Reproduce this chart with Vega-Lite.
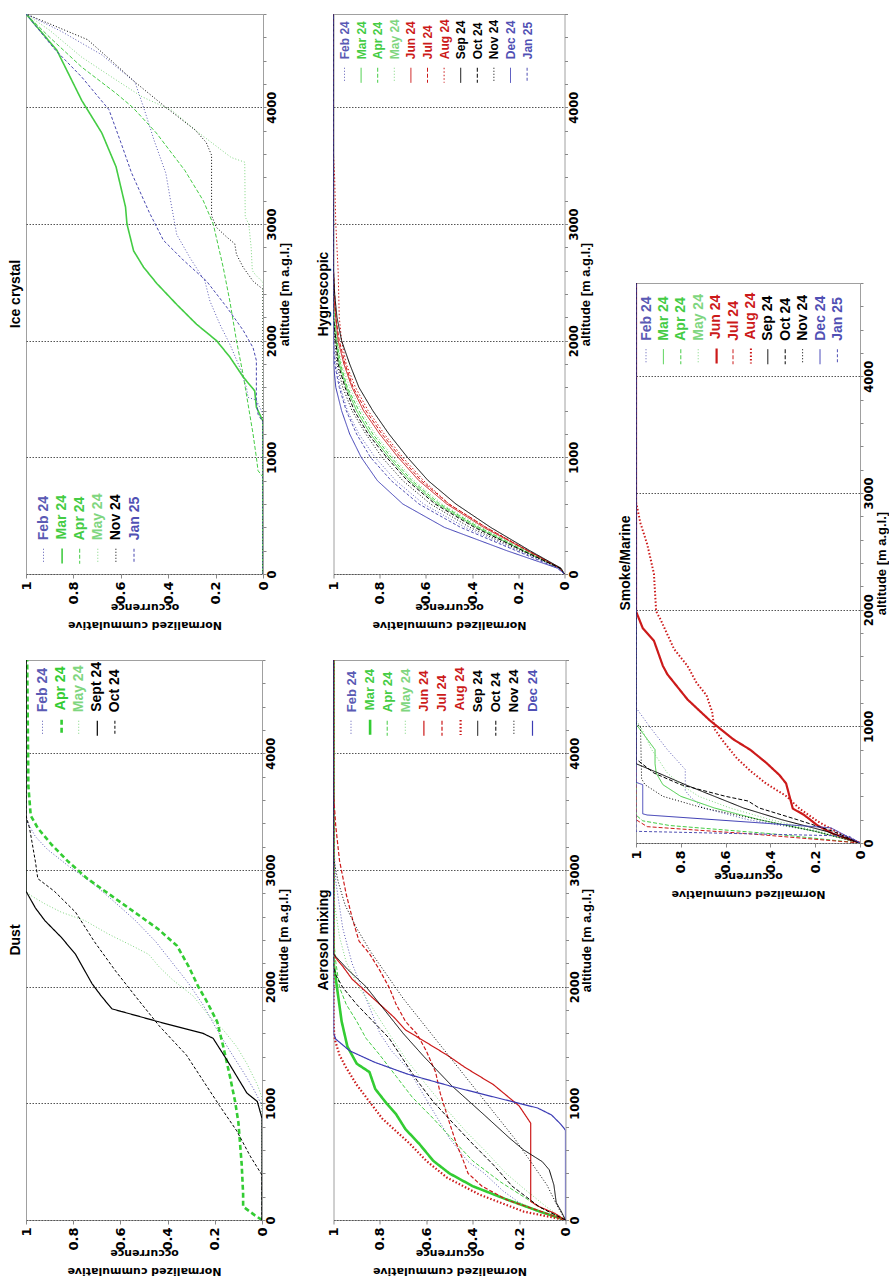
{
"$schema": "https://vega.github.io/schema/vega-lite/v6.json",
"background": "white",
"padding": {"left": 8, "top": 13, "right": 0, "bottom": 0},
"config": {"font": "Liberation Sans", "view": {"stroke": "#a0a0a0", "strokeWidth": 1}},
"datasets": {
"ice": [
{"m":"Feb 24","a":0,"o":0},{"m":"Feb 24","a":1370,"o":0},{"m":"Feb 24","a":1490,"o":0.028},{"m":"Feb 24","a":1514,"o":0.063},{"m":"Feb 24","a":1600,"o":0.07},{"m":"Feb 24","a":1770,"o":0.098},{"m":"Feb 24","a":1970,"o":0.14},{"m":"Feb 24","a":2140,"o":0.182},{"m":"Feb 24","a":2340,"o":0.224},{"m":"Feb 24","a":2510,"o":0.245},{"m":"Feb 24","a":2710,"o":0.308},{"m":"Feb 24","a":2910,"o":0.364},{"m":"Feb 24","a":3200,"o":0.39},{"m":"Feb 24","a":3436,"o":0.41},{"m":"Feb 24","a":3720,"o":0.46},{"m":"Feb 24","a":3976,"o":0.5},{"m":"Feb 24","a":4216,"o":0.54},{"m":"Feb 24","a":4450,"o":0.68},{"m":"Feb 24","a":4650,"o":0.85},{"m":"Feb 24","a":4800,"o":1},
{"m":"Mar 24","a":0,"o":0},{"m":"Mar 24","a":1310,"o":0},{"m":"Mar 24","a":1430,"o":0.028},{"m":"Mar 24","a":1570,"o":0.035},{"m":"Mar 24","a":1690,"o":0.084},{"m":"Mar 24","a":1860,"o":0.14},{"m":"Mar 24","a":2000,"o":0.196},{"m":"Mar 24","a":2140,"o":0.28},{"m":"Mar 24","a":2310,"o":0.364},{"m":"Mar 24","a":2490,"o":0.448},{"m":"Mar 24","a":2630,"o":0.504},{"m":"Mar 24","a":2770,"o":0.546},{"m":"Mar 24","a":3000,"o":0.574},{"m":"Mar 24","a":3145,"o":0.58},{"m":"Mar 24","a":3490,"o":0.62},{"m":"Mar 24","a":3780,"o":0.68},{"m":"Mar 24","a":4060,"o":0.765},{"m":"Mar 24","a":4490,"o":0.87},{"m":"Mar 24","a":4800,"o":1},
{"m":"Apr 24","a":0,"o":0},{"m":"Apr 24","a":830,"o":0},{"m":"Apr 24","a":886,"o":0.021},{"m":"Apr 24","a":1000,"o":0.028},{"m":"Apr 24","a":1200,"o":0.042},{"m":"Apr 24","a":1370,"o":0.056},{"m":"Apr 24","a":1710,"o":0.084},{"m":"Apr 24","a":2000,"o":0.112},{"m":"Apr 24","a":2340,"o":0.14},{"m":"Apr 24","a":2630,"o":0.168},{"m":"Apr 24","a":3000,"o":0.21},{"m":"Apr 24","a":3200,"o":0.252},{"m":"Apr 24","a":3460,"o":0.33},{"m":"Apr 24","a":3780,"o":0.45},{"m":"Apr 24","a":4000,"o":0.55},{"m":"Apr 24","a":4120,"o":0.62},{"m":"Apr 24","a":4345,"o":0.765},{"m":"Apr 24","a":4600,"o":0.9},{"m":"Apr 24","a":4800,"o":1},
{"m":"May 24","a":0,"o":0},{"m":"May 24","a":2500,"o":0},{"m":"May 24","a":2560,"o":0.03},{"m":"May 24","a":2600,"o":0.045},{"m":"May 24","a":2800,"o":0.05},{"m":"May 24","a":3000,"o":0.06},{"m":"May 24","a":3060,"o":0.075},{"m":"May 24","a":3530,"o":0.077},{"m":"May 24","a":3570,"o":0.134},{"m":"May 24","a":3780,"o":0.27},{"m":"May 24","a":3976,"o":0.386},{"m":"May 24","a":4090,"o":0.51},{"m":"May 24","a":4235,"o":0.62},{"m":"May 24","a":4430,"o":0.765},{"m":"May 24","a":4660,"o":0.9},{"m":"May 24","a":4800,"o":1},
{"m":"Nov 24","a":0,"o":0},{"m":"Nov 24","a":2440,"o":0},{"m":"Nov 24","a":2510,"o":0.042},{"m":"Nov 24","a":2630,"o":0.084},{"m":"Nov 24","a":2740,"o":0.112},{"m":"Nov 24","a":2830,"o":0.119},{"m":"Nov 24","a":2890,"o":0.154},{"m":"Nov 24","a":2970,"o":0.196},{"m":"Nov 24","a":3070,"o":0.217},{"m":"Nov 24","a":3590,"o":0.217},{"m":"Nov 24","a":3700,"o":0.24},{"m":"Nov 24","a":3805,"o":0.286},{"m":"Nov 24","a":4000,"o":0.41},{"m":"Nov 24","a":4216,"o":0.54},{"m":"Nov 24","a":4400,"o":0.64},{"m":"Nov 24","a":4580,"o":0.74},{"m":"Nov 24","a":4800,"o":1},
{"m":"Jan 25","a":0,"o":0},{"m":"Jan 25","a":1300,"o":0},{"m":"Jan 25","a":1370,"o":0.021},{"m":"Jan 25","a":1490,"o":0.028},{"m":"Jan 25","a":1830,"o":0.028},{"m":"Jan 25","a":1940,"o":0.042},{"m":"Jan 25","a":2090,"o":0.084},{"m":"Jan 25","a":2290,"o":0.154},{"m":"Jan 25","a":2510,"o":0.238},{"m":"Jan 25","a":2690,"o":0.336},{"m":"Jan 25","a":2860,"o":0.42},{"m":"Jan 25","a":3100,"o":0.48},{"m":"Jan 25","a":3440,"o":0.555},{"m":"Jan 25","a":3700,"o":0.6},{"m":"Jan 25","a":3980,"o":0.65},{"m":"Jan 25","a":4260,"o":0.765},{"m":"Jan 25","a":4500,"o":0.88},{"m":"Jan 25","a":4800,"o":1}
],
"dust": [
{"m":"Feb 24","a":0,"o":0},{"m":"Feb 24","a":980,"o":0},{"m":"Feb 24","a":1124,"o":0.036},{"m":"Feb 24","a":1268,"o":0.079},{"m":"Feb 24","a":1449,"o":0.136},{"m":"Feb 24","a":1629,"o":0.19},{"m":"Feb 24","a":1845,"o":0.25},{"m":"Feb 24","a":2025,"o":0.31},{"m":"Feb 24","a":2205,"o":0.38},{"m":"Feb 24","a":2385,"o":0.45},{"m":"Feb 24","a":2566,"o":0.536},{"m":"Feb 24","a":2746,"o":0.636},{"m":"Feb 24","a":2890,"o":0.72},{"m":"Feb 24","a":3034,"o":0.82},{"m":"Feb 24","a":3178,"o":0.91},{"m":"Feb 24","a":3286,"o":0.96},{"m":"Feb 24","a":3430,"o":1},{"m":"Feb 24","a":4800,"o":1},
{"m":"Apr 24","a":0,"o":0},{"m":"Apr 24","a":40,"o":0.03},{"m":"Apr 24","a":115,"o":0.08},{"m":"Apr 24","a":223,"o":0.08},{"m":"Apr 24","a":475,"o":0.086},{"m":"Apr 24","a":836,"o":0.1},{"m":"Apr 24","a":1016,"o":0.114},{"m":"Apr 24","a":1232,"o":0.136},{"m":"Apr 24","a":1485,"o":0.164},{"m":"Apr 24","a":1700,"o":0.19},{"m":"Apr 24","a":1881,"o":0.236},{"m":"Apr 24","a":2000,"o":0.27},{"m":"Apr 24","a":2170,"o":0.31},{"m":"Apr 24","a":2350,"o":0.36},{"m":"Apr 24","a":2494,"o":0.44},{"m":"Apr 24","a":2638,"o":0.54},{"m":"Apr 24","a":2782,"o":0.64},{"m":"Apr 24","a":2926,"o":0.74},{"m":"Apr 24","a":3070,"o":0.82},{"m":"Apr 24","a":3214,"o":0.89},{"m":"Apr 24","a":3359,"o":0.95},{"m":"Apr 24","a":3467,"o":0.98},{"m":"Apr 24","a":3719,"o":0.99},{"m":"Apr 24","a":4800,"o":0.995},
{"m":"May 24","a":0,"o":0},{"m":"May 24","a":1052,"o":0},{"m":"May 24","a":1160,"o":0.02},{"m":"May 24","a":1340,"o":0.064},{"m":"May 24","a":1485,"o":0.107},{"m":"May 24","a":1629,"o":0.164},{"m":"May 24","a":1737,"o":0.22},{"m":"May 24","a":1917,"o":0.29},{"m":"May 24","a":2061,"o":0.38},{"m":"May 24","a":2170,"o":0.436},{"m":"May 24","a":2277,"o":0.48},{"m":"May 24","a":2350,"o":0.55},{"m":"May 24","a":2450,"o":0.65},{"m":"May 24","a":2566,"o":0.75},{"m":"May 24","a":2638,"o":0.85},{"m":"May 24","a":2710,"o":0.92},{"m":"May 24","a":2782,"o":0.98},{"m":"May 24","a":2818,"o":1},{"m":"May 24","a":4800,"o":1},
{"m":"Sept 24","a":0,"o":0},{"m":"Sept 24","a":872,"o":0},{"m":"Sept 24","a":1016,"o":0.02},{"m":"Sept 24","a":1088,"o":0.064},{"m":"Sept 24","a":1232,"o":0.107},{"m":"Sept 24","a":1376,"o":0.15},{"m":"Sept 24","a":1557,"o":0.207},{"m":"Sept 24","a":1600,"o":0.25},{"m":"Sept 24","a":1700,"o":0.44},{"m":"Sept 24","a":1810,"o":0.636},{"m":"Sept 24","a":1917,"o":0.68},{"m":"Sept 24","a":2025,"o":0.72},{"m":"Sept 24","a":2133,"o":0.75},{"m":"Sept 24","a":2277,"o":0.79},{"m":"Sept 24","a":2422,"o":0.85},{"m":"Sept 24","a":2566,"o":0.92},{"m":"Sept 24","a":2674,"o":0.96},{"m":"Sept 24","a":2782,"o":0.99},{"m":"Sept 24","a":2818,"o":1},{"m":"Sept 24","a":4800,"o":1},
{"m":"Oct 24","a":0,"o":0},{"m":"Oct 24","a":385,"o":0},{"m":"Oct 24","a":548,"o":0.05},{"m":"Oct 24","a":764,"o":0.107},{"m":"Oct 24","a":980,"o":0.18},{"m":"Oct 24","a":1196,"o":0.25},{"m":"Oct 24","a":1413,"o":0.32},{"m":"Oct 24","a":1665,"o":0.436},{"m":"Oct 24","a":1917,"o":0.536},{"m":"Oct 24","a":2133,"o":0.62},{"m":"Oct 24","a":2385,"o":0.71},{"m":"Oct 24","a":2638,"o":0.79},{"m":"Oct 24","a":2818,"o":0.88},{"m":"Oct 24","a":2926,"o":0.95},{"m":"Oct 24","a":3070,"o":0.96},{"m":"Oct 24","a":3359,"o":0.985},{"m":"Oct 24","a":3467,"o":1},{"m":"Oct 24","a":4800,"o":1}
],
"aer": [
{"m":"Feb 24","a":0,"o":0},{"m":"Feb 24","a":60,"o":0.1},{"m":"Feb 24","a":150,"o":0.2},{"m":"Feb 24","a":250,"o":0.27},{"m":"Feb 24","a":400,"o":0.35},{"m":"Feb 24","a":500,"o":0.42},{"m":"Feb 24","a":600,"o":0.46},{"m":"Feb 24","a":700,"o":0.5},{"m":"Feb 24","a":900,"o":0.56},{"m":"Feb 24","a":1100,"o":0.62},{"m":"Feb 24","a":1300,"o":0.68},{"m":"Feb 24","a":1450,"o":0.75},{"m":"Feb 24","a":1600,"o":0.8},{"m":"Feb 24","a":1800,"o":0.84},{"m":"Feb 24","a":2000,"o":0.88},{"m":"Feb 24","a":2200,"o":0.92},{"m":"Feb 24","a":2500,"o":0.96},{"m":"Feb 24","a":2900,"o":0.99},{"m":"Feb 24","a":3300,"o":1},{"m":"Feb 24","a":4800,"o":1},
{"m":"Mar 24","a":0,"o":0},{"m":"Mar 24","a":72,"o":0.11},{"m":"Mar 24","a":181,"o":0.26},{"m":"Mar 24","a":290,"o":0.4},{"m":"Mar 24","a":399,"o":0.5},{"m":"Mar 24","a":507,"o":0.57},{"m":"Mar 24","a":652,"o":0.63},{"m":"Mar 24","a":779,"o":0.69},{"m":"Mar 24","a":906,"o":0.73},{"m":"Mar 24","a":996,"o":0.77},{"m":"Mar 24","a":1123,"o":0.82},{"m":"Mar 24","a":1268,"o":0.845},{"m":"Mar 24","a":1340,"o":0.9},{"m":"Mar 24","a":1486,"o":0.94},{"m":"Mar 24","a":1703,"o":0.965},{"m":"Mar 24","a":1993,"o":0.985},{"m":"Mar 24","a":2210,"o":1},{"m":"Mar 24","a":4800,"o":1},
{"m":"Apr 24","a":0,"o":0},{"m":"Apr 24","a":109,"o":0.11},{"m":"Apr 24","a":326,"o":0.28},{"m":"Apr 24","a":507,"o":0.4},{"m":"Apr 24","a":688,"o":0.486},{"m":"Apr 24","a":870,"o":0.57},{"m":"Apr 24","a":1051,"o":0.66},{"m":"Apr 24","a":1232,"o":0.73},{"m":"Apr 24","a":1413,"o":0.8},{"m":"Apr 24","a":1558,"o":0.86},{"m":"Apr 24","a":1703,"o":0.9},{"m":"Apr 24","a":1848,"o":0.945},{"m":"Apr 24","a":1993,"o":0.974},{"m":"Apr 24","a":2210,"o":0.99},{"m":"Apr 24","a":2427,"o":1},{"m":"Apr 24","a":4800,"o":1},
{"m":"May 24","a":0,"o":0},{"m":"May 24","a":109,"o":0.08},{"m":"May 24","a":254,"o":0.17},{"m":"May 24","a":399,"o":0.256},{"m":"May 24","a":580,"o":0.34},{"m":"May 24","a":761,"o":0.43},{"m":"May 24","a":942,"o":0.51},{"m":"May 24","a":1159,"o":0.6},{"m":"May 24","a":1377,"o":0.687},{"m":"May 24","a":1594,"o":0.76},{"m":"May 24","a":1812,"o":0.83},{"m":"May 24","a":1993,"o":0.89},{"m":"May 24","a":2210,"o":0.945},{"m":"May 24","a":2427,"o":0.974},{"m":"May 24","a":2717,"o":0.996},{"m":"May 24","a":2935,"o":1},{"m":"May 24","a":4800,"o":1},
{"m":"Jun 24","a":0,"o":0},{"m":"Jun 24","a":60,"o":0.05},{"m":"Jun 24","a":120,"o":0.12},{"m":"Jun 24","a":160,"o":0.15},{"m":"Jun 24","a":830,"o":0.15},{"m":"Jun 24","a":978,"o":0.2},{"m":"Jun 24","a":1159,"o":0.31},{"m":"Jun 24","a":1304,"o":0.43},{"m":"Jun 24","a":1413,"o":0.51},{"m":"Jun 24","a":1522,"o":0.6},{"m":"Jun 24","a":1630,"o":0.69},{"m":"Jun 24","a":1739,"o":0.74},{"m":"Jun 24","a":1848,"o":0.8},{"m":"Jun 24","a":1957,"o":0.86},{"m":"Jun 24","a":2065,"o":0.92},{"m":"Jun 24","a":2174,"o":0.96},{"m":"Jun 24","a":2246,"o":0.99},{"m":"Jun 24","a":2283,"o":1},{"m":"Jun 24","a":4800,"o":1},
{"m":"Jul 24","a":0,"o":0},{"m":"Jul 24","a":70,"o":0.1},{"m":"Jul 24","a":170,"o":0.25},{"m":"Jul 24","a":290,"o":0.36},{"m":"Jul 24","a":400,"o":0.42},{"m":"Jul 24","a":507,"o":0.44},{"m":"Jul 24","a":652,"o":0.47},{"m":"Jul 24","a":833,"o":0.5},{"m":"Jul 24","a":1087,"o":0.54},{"m":"Jul 24","a":1268,"o":0.56},{"m":"Jul 24","a":1449,"o":0.6},{"m":"Jul 24","a":1594,"o":0.64},{"m":"Jul 24","a":1703,"o":0.69},{"m":"Jul 24","a":1848,"o":0.73},{"m":"Jul 24","a":1993,"o":0.76},{"m":"Jul 24","a":2138,"o":0.8},{"m":"Jul 24","a":2283,"o":0.845},{"m":"Jul 24","a":2391,"o":0.89},{"m":"Jul 24","a":2572,"o":0.917},{"m":"Jul 24","a":2790,"o":0.945},{"m":"Jul 24","a":3080,"o":0.974},{"m":"Jul 24","a":3370,"o":0.99},{"m":"Jul 24","a":3660,"o":1},{"m":"Jul 24","a":4800,"o":1},
{"m":"Aug 24","a":0,"o":0},{"m":"Aug 24","a":72,"o":0.18},{"m":"Aug 24","a":217,"o":0.37},{"m":"Aug 24","a":362,"o":0.51},{"m":"Aug 24","a":507,"o":0.6},{"m":"Aug 24","a":652,"o":0.67},{"m":"Aug 24","a":761,"o":0.73},{"m":"Aug 24","a":870,"o":0.79},{"m":"Aug 24","a":1014,"o":0.845},{"m":"Aug 24","a":1159,"o":0.9},{"m":"Aug 24","a":1304,"o":0.945},{"m":"Aug 24","a":1413,"o":0.974},{"m":"Aug 24","a":1558,"o":0.996},{"m":"Aug 24","a":1703,"o":1},{"m":"Aug 24","a":4800,"o":1},
{"m":"Sep 24","a":0,"o":0},{"m":"Sep 24","a":80,"o":0.02},{"m":"Sep 24","a":150,"o":0.04},{"m":"Sep 24","a":300,"o":0.05},{"m":"Sep 24","a":430,"o":0.07},{"m":"Sep 24","a":500,"o":0.1},{"m":"Sep 24","a":600,"o":0.18},{"m":"Sep 24","a":700,"o":0.24},{"m":"Sep 24","a":900,"o":0.35},{"m":"Sep 24","a":1150,"o":0.49},{"m":"Sep 24","a":1400,"o":0.61},{"m":"Sep 24","a":1600,"o":0.7},{"m":"Sep 24","a":1800,"o":0.78},{"m":"Sep 24","a":2000,"o":0.86},{"m":"Sep 24","a":2150,"o":0.94},{"m":"Sep 24","a":2280,"o":1},{"m":"Sep 24","a":4800,"o":1},
{"m":"Oct 24","a":0,"o":0},{"m":"Oct 24","a":109,"o":0.11},{"m":"Oct 24","a":290,"o":0.23},{"m":"Oct 24","a":471,"o":0.31},{"m":"Oct 24","a":652,"o":0.4},{"m":"Oct 24","a":833,"o":0.486},{"m":"Oct 24","a":1014,"o":0.57},{"m":"Oct 24","a":1196,"o":0.64},{"m":"Oct 24","a":1377,"o":0.7},{"m":"Oct 24","a":1558,"o":0.76},{"m":"Oct 24","a":1703,"o":0.83},{"m":"Oct 24","a":1848,"o":0.9},{"m":"Oct 24","a":1993,"o":0.96},{"m":"Oct 24","a":2100,"o":0.99},{"m":"Oct 24","a":2174,"o":1},{"m":"Oct 24","a":4800,"o":1},
{"m":"Nov 24","a":0,"o":0},{"m":"Nov 24","a":100,"o":0.03},{"m":"Nov 24","a":300,"o":0.08},{"m":"Nov 24","a":500,"o":0.15},{"m":"Nov 24","a":700,"o":0.22},{"m":"Nov 24","a":900,"o":0.3},{"m":"Nov 24","a":1100,"o":0.38},{"m":"Nov 24","a":1300,"o":0.46},{"m":"Nov 24","a":1500,"o":0.54},{"m":"Nov 24","a":1700,"o":0.62},{"m":"Nov 24","a":1900,"o":0.7},{"m":"Nov 24","a":2100,"o":0.77},{"m":"Nov 24","a":2300,"o":0.84},{"m":"Nov 24","a":2500,"o":0.9},{"m":"Nov 24","a":2700,"o":0.95},{"m":"Nov 24","a":2900,"o":0.98},{"m":"Nov 24","a":3100,"o":1},{"m":"Nov 24","a":4800,"o":1},
{"m":"Dec 24","a":0,"o":0},{"m":"Dec 24","a":770,"o":0},{"m":"Dec 24","a":820,"o":0.02},{"m":"Dec 24","a":900,"o":0.06},{"m":"Dec 24","a":960,"o":0.12},{"m":"Dec 24","a":1050,"o":0.3},{"m":"Dec 24","a":1150,"o":0.5},{"m":"Dec 24","a":1250,"o":0.68},{"m":"Dec 24","a":1350,"o":0.82},{"m":"Dec 24","a":1450,"o":0.93},{"m":"Dec 24","a":1550,"o":0.99},{"m":"Dec 24","a":1600,"o":1},{"m":"Dec 24","a":4800,"o":1}
],
"hyg": [
{"m":"Feb 24","a":0,"o":0},{"m":"Feb 24","a":50,"o":0.02},{"m":"Feb 24","a":200,"o":0.2},{"m":"Feb 24","a":400,"o":0.43},{"m":"Feb 24","a":600,"o":0.61},{"m":"Feb 24","a":800,"o":0.73},{"m":"Feb 24","a":1000,"o":0.82},{"m":"Feb 24","a":1200,"o":0.89},{"m":"Feb 24","a":1400,"o":0.94},{"m":"Feb 24","a":1600,"o":0.97},{"m":"Feb 24","a":1800,"o":0.99},{"m":"Feb 24","a":2000,"o":1},{"m":"Feb 24","a":4800,"o":1},
{"m":"Mar 24","a":0,"o":0},{"m":"Mar 24","a":50,"o":0.02},{"m":"Mar 24","a":200,"o":0.18},{"m":"Mar 24","a":400,"o":0.38},{"m":"Mar 24","a":600,"o":0.55},{"m":"Mar 24","a":800,"o":0.67},{"m":"Mar 24","a":1000,"o":0.76},{"m":"Mar 24","a":1200,"o":0.84},{"m":"Mar 24","a":1400,"o":0.9},{"m":"Mar 24","a":1600,"o":0.945},{"m":"Mar 24","a":1800,"o":0.975},{"m":"Mar 24","a":2000,"o":0.99},{"m":"Mar 24","a":2200,"o":1},{"m":"Mar 24","a":4800,"o":1},
{"m":"Apr 24","a":0,"o":0},{"m":"Apr 24","a":50,"o":0.02},{"m":"Apr 24","a":200,"o":0.17},{"m":"Apr 24","a":400,"o":0.37},{"m":"Apr 24","a":600,"o":0.54},{"m":"Apr 24","a":800,"o":0.66},{"m":"Apr 24","a":1000,"o":0.75},{"m":"Apr 24","a":1200,"o":0.83},{"m":"Apr 24","a":1400,"o":0.89},{"m":"Apr 24","a":1600,"o":0.94},{"m":"Apr 24","a":1800,"o":0.97},{"m":"Apr 24","a":2000,"o":0.985},{"m":"Apr 24","a":2200,"o":0.995},{"m":"Apr 24","a":2400,"o":1},{"m":"Apr 24","a":4800,"o":1},
{"m":"May 24","a":0,"o":0},{"m":"May 24","a":50,"o":0.02},{"m":"May 24","a":200,"o":0.17},{"m":"May 24","a":400,"o":0.36},{"m":"May 24","a":600,"o":0.53},{"m":"May 24","a":800,"o":0.65},{"m":"May 24","a":1000,"o":0.74},{"m":"May 24","a":1200,"o":0.82},{"m":"May 24","a":1400,"o":0.88},{"m":"May 24","a":1600,"o":0.93},{"m":"May 24","a":1800,"o":0.965},{"m":"May 24","a":2000,"o":0.985},{"m":"May 24","a":2200,"o":0.995},{"m":"May 24","a":2400,"o":1},{"m":"May 24","a":4800,"o":1},
{"m":"Jun 24","a":0,"o":0},{"m":"Jun 24","a":50,"o":0.02},{"m":"Jun 24","a":200,"o":0.16},{"m":"Jun 24","a":400,"o":0.35},{"m":"Jun 24","a":600,"o":0.51},{"m":"Jun 24","a":800,"o":0.63},{"m":"Jun 24","a":1000,"o":0.72},{"m":"Jun 24","a":1200,"o":0.8},{"m":"Jun 24","a":1400,"o":0.87},{"m":"Jun 24","a":1600,"o":0.92},{"m":"Jun 24","a":1800,"o":0.955},{"m":"Jun 24","a":2000,"o":0.98},{"m":"Jun 24","a":2200,"o":0.99},{"m":"Jun 24","a":2400,"o":1},{"m":"Jun 24","a":4800,"o":1},
{"m":"Jul 24","a":0,"o":0},{"m":"Jul 24","a":50,"o":0.02},{"m":"Jul 24","a":200,"o":0.16},{"m":"Jul 24","a":400,"o":0.34},{"m":"Jul 24","a":600,"o":0.5},{"m":"Jul 24","a":800,"o":0.62},{"m":"Jul 24","a":1000,"o":0.71},{"m":"Jul 24","a":1200,"o":0.79},{"m":"Jul 24","a":1400,"o":0.86},{"m":"Jul 24","a":1600,"o":0.915},{"m":"Jul 24","a":1800,"o":0.95},{"m":"Jul 24","a":2000,"o":0.975},{"m":"Jul 24","a":2200,"o":0.99},{"m":"Jul 24","a":2400,"o":0.995},{"m":"Jul 24","a":2600,"o":1},{"m":"Jul 24","a":4800,"o":1},
{"m":"Aug 24","a":0,"o":0},{"m":"Aug 24","a":50,"o":0.02},{"m":"Aug 24","a":200,"o":0.155},{"m":"Aug 24","a":400,"o":0.34},{"m":"Aug 24","a":600,"o":0.5},{"m":"Aug 24","a":800,"o":0.61},{"m":"Aug 24","a":1000,"o":0.7},{"m":"Aug 24","a":1200,"o":0.78},{"m":"Aug 24","a":1400,"o":0.85},{"m":"Aug 24","a":1600,"o":0.905},{"m":"Aug 24","a":1800,"o":0.945},{"m":"Aug 24","a":2000,"o":0.965},{"m":"Aug 24","a":2200,"o":0.975},{"m":"Aug 24","a":2600,"o":0.98},{"m":"Aug 24","a":3000,"o":0.99},{"m":"Aug 24","a":3400,"o":0.995},{"m":"Aug 24","a":3600,"o":1},{"m":"Aug 24","a":4800,"o":1},
{"m":"Sep 24","a":0,"o":0},{"m":"Sep 24","a":50,"o":0.015},{"m":"Sep 24","a":200,"o":0.15},{"m":"Sep 24","a":400,"o":0.32},{"m":"Sep 24","a":600,"o":0.47},{"m":"Sep 24","a":800,"o":0.59},{"m":"Sep 24","a":1000,"o":0.68},{"m":"Sep 24","a":1200,"o":0.76},{"m":"Sep 24","a":1400,"o":0.83},{"m":"Sep 24","a":1600,"o":0.89},{"m":"Sep 24","a":1800,"o":0.93},{"m":"Sep 24","a":2000,"o":0.965},{"m":"Sep 24","a":2200,"o":0.985},{"m":"Sep 24","a":2400,"o":0.995},{"m":"Sep 24","a":2600,"o":1},{"m":"Sep 24","a":4800,"o":1},
{"m":"Oct 24","a":0,"o":0},{"m":"Oct 24","a":50,"o":0.02},{"m":"Oct 24","a":200,"o":0.18},{"m":"Oct 24","a":400,"o":0.39},{"m":"Oct 24","a":600,"o":0.56},{"m":"Oct 24","a":800,"o":0.68},{"m":"Oct 24","a":1000,"o":0.77},{"m":"Oct 24","a":1200,"o":0.85},{"m":"Oct 24","a":1400,"o":0.91},{"m":"Oct 24","a":1600,"o":0.95},{"m":"Oct 24","a":1800,"o":0.98},{"m":"Oct 24","a":2000,"o":0.99},{"m":"Oct 24","a":2200,"o":1},{"m":"Oct 24","a":4800,"o":1},
{"m":"Nov 24","a":0,"o":0},{"m":"Nov 24","a":50,"o":0.02},{"m":"Nov 24","a":200,"o":0.19},{"m":"Nov 24","a":400,"o":0.41},{"m":"Nov 24","a":600,"o":0.58},{"m":"Nov 24","a":800,"o":0.7},{"m":"Nov 24","a":1000,"o":0.79},{"m":"Nov 24","a":1200,"o":0.86},{"m":"Nov 24","a":1400,"o":0.92},{"m":"Nov 24","a":1600,"o":0.96},{"m":"Nov 24","a":1800,"o":0.985},{"m":"Nov 24","a":2000,"o":0.995},{"m":"Nov 24","a":2200,"o":1},{"m":"Nov 24","a":4800,"o":1},
{"m":"Dec 24","a":0,"o":0},{"m":"Dec 24","a":50,"o":0.03},{"m":"Dec 24","a":200,"o":0.25},{"m":"Dec 24","a":400,"o":0.52},{"m":"Dec 24","a":600,"o":0.7},{"m":"Dec 24","a":800,"o":0.81},{"m":"Dec 24","a":1000,"o":0.88},{"m":"Dec 24","a":1200,"o":0.93},{"m":"Dec 24","a":1400,"o":0.965},{"m":"Dec 24","a":1600,"o":0.99},{"m":"Dec 24","a":1800,"o":1},{"m":"Dec 24","a":4800,"o":1},
{"m":"Jan 25","a":0,"o":0},{"m":"Jan 25","a":50,"o":0.03},{"m":"Jan 25","a":200,"o":0.21},{"m":"Jan 25","a":400,"o":0.45},{"m":"Jan 25","a":600,"o":0.63},{"m":"Jan 25","a":800,"o":0.75},{"m":"Jan 25","a":1000,"o":0.84},{"m":"Jan 25","a":1200,"o":0.9},{"m":"Jan 25","a":1400,"o":0.945},{"m":"Jan 25","a":1600,"o":0.975},{"m":"Jan 25","a":1800,"o":0.995},{"m":"Jan 25","a":2000,"o":1},{"m":"Jan 25","a":4800,"o":1}
],
"smk": [
{"m":"Feb 24","a":0,"o":0},{"m":"Feb 24","a":100,"o":0.2},{"m":"Feb 24","a":200,"o":0.5},{"m":"Feb 24","a":300,"o":0.7},{"m":"Feb 24","a":400,"o":0.76},{"m":"Feb 24","a":450,"o":0.78},{"m":"Feb 24","a":630,"o":0.78},{"m":"Feb 24","a":800,"o":0.86},{"m":"Feb 24","a":1000,"o":0.94},{"m":"Feb 24","a":1160,"o":1},{"m":"Feb 24","a":4800,"o":1},
{"m":"Mar 24","a":0,"o":0},{"m":"Mar 24","a":100,"o":0.2},{"m":"Mar 24","a":200,"o":0.45},{"m":"Mar 24","a":300,"o":0.65},{"m":"Mar 24","a":400,"o":0.8},{"m":"Mar 24","a":500,"o":0.88},{"m":"Mar 24","a":600,"o":0.91},{"m":"Mar 24","a":680,"o":0.915},{"m":"Mar 24","a":800,"o":0.915},{"m":"Mar 24","a":1020,"o":1},{"m":"Mar 24","a":4800,"o":1},
{"m":"Apr 24","a":0,"o":0},{"m":"Apr 24","a":80,"o":0.4},{"m":"Apr 24","a":150,"o":0.85},{"m":"Apr 24","a":190,"o":0.97},{"m":"Apr 24","a":240,"o":1},{"m":"Apr 24","a":4800,"o":1},
{"m":"May 24","a":0,"o":0},{"m":"May 24","a":100,"o":0.18},{"m":"May 24","a":200,"o":0.4},{"m":"May 24","a":300,"o":0.58},{"m":"May 24","a":400,"o":0.72},{"m":"May 24","a":500,"o":0.8},{"m":"May 24","a":600,"o":0.86},{"m":"May 24","a":800,"o":0.93},{"m":"May 24","a":1000,"o":0.98},{"m":"May 24","a":1050,"o":1},{"m":"May 24","a":4800,"o":1},
{"m":"Jun 24","a":0,"o":0},{"m":"Jun 24","a":79,"o":0.12},{"m":"Jun 24","a":151,"o":0.19},{"m":"Jun 24","a":241,"o":0.25},{"m":"Jun 24","a":295,"o":0.3},{"m":"Jun 24","a":367,"o":0.31},{"m":"Jun 24","a":439,"o":0.32},{"m":"Jun 24","a":511,"o":0.33},{"m":"Jun 24","a":583,"o":0.36},{"m":"Jun 24","a":690,"o":0.42},{"m":"Jun 24","a":799,"o":0.49},{"m":"Jun 24","a":888,"o":0.565},{"m":"Jun 24","a":1050,"o":0.67},{"m":"Jun 24","a":1122,"o":0.71},{"m":"Jun 24","a":1230,"o":0.77},{"m":"Jun 24","a":1374,"o":0.83},{"m":"Jun 24","a":1446,"o":0.86},{"m":"Jun 24","a":1518,"o":0.88},{"m":"Jun 24","a":1734,"o":0.92},{"m":"Jun 24","a":1842,"o":0.97},{"m":"Jun 24","a":1986,"o":1},{"m":"Jun 24","a":4800,"o":1},
{"m":"Jul 24","a":0,"o":0},{"m":"Jul 24","a":80,"o":0.5},{"m":"Jul 24","a":140,"o":0.95},{"m":"Jul 24","a":200,"o":1},{"m":"Jul 24","a":4800,"o":1},
{"m":"Aug 24","a":0,"o":0},{"m":"Aug 24","a":79,"o":0.09},{"m":"Aug 24","a":187,"o":0.19},{"m":"Aug 24","a":295,"o":0.27},{"m":"Aug 24","a":403,"o":0.33},{"m":"Aug 24","a":511,"o":0.42},{"m":"Aug 24","a":619,"o":0.49},{"m":"Aug 24","a":727,"o":0.55},{"m":"Aug 24","a":870,"o":0.61},{"m":"Aug 24","a":978,"o":0.65},{"m":"Aug 24","a":1122,"o":0.66},{"m":"Aug 24","a":1266,"o":0.685},{"m":"Aug 24","a":1374,"o":0.73},{"m":"Aug 24","a":1518,"o":0.77},{"m":"Aug 24","a":1662,"o":0.83},{"m":"Aug 24","a":1914,"o":0.89},{"m":"Aug 24","a":1986,"o":0.91},{"m":"Aug 24","a":2309,"o":0.92},{"m":"Aug 24","a":2561,"o":0.95},{"m":"Aug 24","a":2741,"o":0.98},{"m":"Aug 24","a":2921,"o":1},{"m":"Aug 24","a":4800,"o":1},
{"m":"Sep 24","a":0,"o":0},{"m":"Sep 24","a":100,"o":0.15},{"m":"Sep 24","a":200,"o":0.35},{"m":"Sep 24","a":300,"o":0.52},{"m":"Sep 24","a":400,"o":0.65},{"m":"Sep 24","a":500,"o":0.78},{"m":"Sep 24","a":600,"o":0.9},{"m":"Sep 24","a":680,"o":1},{"m":"Sep 24","a":4800,"o":1},
{"m":"Oct 24","a":0,"o":0},{"m":"Oct 24","a":100,"o":0.12},{"m":"Oct 24","a":200,"o":0.28},{"m":"Oct 24","a":300,"o":0.45},{"m":"Oct 24","a":360,"o":0.5},{"m":"Oct 24","a":400,"o":0.6},{"m":"Oct 24","a":500,"o":0.8},{"m":"Oct 24","a":600,"o":0.92},{"m":"Oct 24","a":720,"o":1},{"m":"Oct 24","a":4800,"o":1},
{"m":"Nov 24","a":0,"o":0},{"m":"Nov 24","a":100,"o":0.2},{"m":"Nov 24","a":200,"o":0.45},{"m":"Nov 24","a":300,"o":0.7},{"m":"Nov 24","a":400,"o":0.88},{"m":"Nov 24","a":500,"o":0.96},{"m":"Nov 24","a":550,"o":0.975},{"m":"Nov 24","a":1000,"o":0.98},{"m":"Nov 24","a":1020,"o":1},{"m":"Nov 24","a":4800,"o":1},
{"m":"Dec 24","a":0,"o":0},{"m":"Dec 24","a":130,"o":0.13},{"m":"Dec 24","a":240,"o":0.95},{"m":"Dec 24","a":250,"o":0.97},{"m":"Dec 24","a":500,"o":0.97},{"m":"Dec 24","a":520,"o":1},{"m":"Dec 24","a":4800,"o":1},
{"m":"Jan 25","a":0,"o":0},{"m":"Jan 25","a":60,"o":0.05},{"m":"Jan 25","a":100,"o":1},{"m":"Jan 25","a":4800,"o":1}
]
},
"spacing": 24,
"resolve": {"scale": {"color": "independent", "strokeDash": "independent", "strokeWidth": "independent", "x": "independent", "y": "independent"}, "legend": {"color": "independent", "strokeDash": "independent"}},
"hconcat": [
{"spacing": 23.5,
 "resolve": {"scale": {"color": "independent", "strokeDash": "independent", "strokeWidth": "independent", "x": "independent", "y": "independent"}, "legend": {"color": "independent", "strokeDash": "independent"}},
 "hconcat": [
 {"spacing": 28,
  "resolve": {"scale": {"color": "independent", "strokeDash": "independent", "strokeWidth": "independent", "x": "independent", "y": "independent"}, "legend": {"color": "independent", "strokeDash": "independent"}},
  "vconcat": [
  {"width": 237, "height": 560,
   "title": {"text": "Ice crystal", "orient": "left", "anchor": "middle", "offset": -3, "font": "Liberation Sans", "fontSize": 14, "fontWeight": "bold", "color": "#000000"},
   "data": {"name": "ice"},
   "mark": {"type": "line", "clip": true},
   "encoding": {
    "x": {"field": "o", "type": "quantitative", "title": ["Normalized cummulative", "occurrence"], "scale": {"domain": [0, 1], "reverse": true, "nice": false, "zero": false},
     "axis": {"orient": "bottom", "values": [0, 0.2, 0.4, 0.6, 0.8, 1], "format": "~g", "labelAngle": -90, "labelAlign": "right", "labelBaseline": "middle", "labelFont": "DejaVu Sans", "labelFontSize": 13, "labelFontWeight": "bold", "labelColor": "#000000", "labelPadding": 3, "labelFlush": false, "labelOverlap": false, "tickSize": 4, "tickColor": "#888888", "domain": false, "grid": false, "titleAngle": 180, "titleBaseline": "bottom", "titleFont": "DejaVu Sans", "titleFontSize": 11, "titleFontWeight": "bold", "titleColor": "#000000", "titlePadding": 15, "titleLineHeight": 18}},
    "y": {"field": "a", "type": "quantitative", "title": "altitude [m a.g.l.]", "scale": {"domain": [0, 4800], "nice": false},
     "axis": {"orient": "right", "values": [0,200,400,600,800,1000,1200,1400,1600,1800,2000,2200,2400,2600,2800,3000,3200,3400,3600,3800,4000,4200,4400,4600,4800], "format": "d", "labelExpr": "datum.value % 1000 === 0 && datum.value <= 4000 ? datum.label : ''", "labelAngle": -90, "labelAlign": "center", "labelBaseline": "top", "labelFont": "DejaVu Sans", "labelFontSize": 11.5, "labelFontWeight": "bold", "labelColor": "#000000", "labelPadding": 0.5, "labelFlush": false, "labelOverlap": false, "tickSize": 3, "tickColor": "#888888", "domain": false, "grid": true, "gridColor": "#555555", "gridDash": [1.5, 1.5], "gridOpacity": {"condition": {"test": "datum.value % 1000 === 0", "value": 1}, "value": 0}, "titleAngle": -90, "titleBaseline": "top", "titleFont": "Liberation Sans", "titleFontSize": 13, "titleFontWeight": "bold", "titleColor": "#000000", "titlePadding": 0}},
    "color": {"field": "m", "type": "nominal", "sort": null, "scale": {"domain": ["Feb 24","Mar 24","Apr 24","May 24","Nov 24","Jan 25"], "range": ["#5a5ab4","#44cc44","#44cc44","#7fd67f","#000000","#4848b0"]},
     "legend": {"title": null, "orient": "none", "legendX": 9.5, "legendY": 533, "direction": "horizontal", "padding": 0, "symbolType": "M0,-1L0,1", "symbolSize": 225, "symbolStrokeWidth": 1.5, "labelFont": "Liberation Sans", "labelFontSize": 14, "labelFontWeight": "bold", "labelLimit": 300, "columnPadding": 2.1,
      "encoding": {"labels": {"angle": {"value": -90}, "align": {"value": "left"}, "baseline": {"value": "middle"}, "x": {"value": 8.5}, "y": {"value": -8},
       "fill": {"condition": [{"test": "datum.label == 'Feb 24'", "value": "#5a5ab4"}, {"test": "datum.label == 'Mar 24' || datum.label == 'Apr 24'", "value": "#44cc44"}, {"test": "datum.label == 'May 24'", "value": "#7fd67f"}, {"test": "datum.label == 'Jun 24' || datum.label == 'Jul 24' || datum.label == 'Aug 24'", "value": "#cc1a1a"}, {"test": "datum.label == 'Dec 24' || datum.label == 'Jan 25'", "value": "#5050b4"}], "value": "#000000"}}}}},
    "strokeDash": {"field": "m", "type": "nominal", "sort": null, "scale": {"domain": ["Feb 24","Mar 24","Apr 24","May 24","Nov 24","Jan 25"], "range": [[1,2],[1,0],[4,2],[1,2],[1,2],[3,2]]},
     "legend": {"title": null, "orient": "none", "legendX": 9.5, "legendY": 533, "direction": "horizontal", "padding": 0, "symbolType": "M0,-1L0,1", "symbolSize": 225, "symbolStrokeWidth": 1.5, "labelFont": "Liberation Sans", "labelFontSize": 14, "labelFontWeight": "bold", "labelLimit": 300, "columnPadding": 2.1,
      "encoding": {"labels": {"angle": {"value": -90}, "align": {"value": "left"}, "baseline": {"value": "middle"}, "x": {"value": 8.5}, "y": {"value": -8},
       "fill": {"condition": [{"test": "datum.label == 'Feb 24'", "value": "#5a5ab4"}, {"test": "datum.label == 'Mar 24' || datum.label == 'Apr 24'", "value": "#44cc44"}, {"test": "datum.label == 'May 24'", "value": "#7fd67f"}, {"test": "datum.label == 'Jun 24' || datum.label == 'Jul 24' || datum.label == 'Aug 24'", "value": "#cc1a1a"}, {"test": "datum.label == 'Dec 24' || datum.label == 'Jan 25'", "value": "#5050b4"}], "value": "#000000"}}}}},
    "strokeWidth": {"field": "m", "type": "nominal", "scale": {"type": "ordinal", "domain": ["Feb 24","Mar 24","Apr 24","May 24","Nov 24","Jan 25"], "range": [1,1.6,1,1,1,1]}, "legend": null},
    "order": {"field": "a", "type": "quantitative"}
   }
  },
  {"width": 236, "height": 560,
   "title": {"text": "Dust", "orient": "left", "anchor": "middle", "offset": -3, "font": "Liberation Sans", "fontSize": 14, "fontWeight": "bold", "color": "#000000"},
   "data": {"name": "dust"},
   "mark": {"type": "line", "clip": true},
   "encoding": {
    "x": {"field": "o", "type": "quantitative", "title": ["Normalized cummulative", "occurrence"], "scale": {"domain": [0, 1], "reverse": true, "nice": false, "zero": false},
     "axis": {"orient": "bottom", "values": [0, 0.2, 0.4, 0.6, 0.8, 1], "format": "~g", "labelAngle": -90, "labelAlign": "right", "labelBaseline": "middle", "labelFont": "DejaVu Sans", "labelFontSize": 13, "labelFontWeight": "bold", "labelColor": "#000000", "labelPadding": 3, "labelFlush": false, "labelOverlap": false, "tickSize": 4, "tickColor": "#888888", "domain": false, "grid": false, "titleAngle": 180, "titleBaseline": "bottom", "titleFont": "DejaVu Sans", "titleFontSize": 11, "titleFontWeight": "bold", "titleColor": "#000000", "titlePadding": 15, "titleLineHeight": 18}},
    "y": {"field": "a", "type": "quantitative", "title": "altitude [m a.g.l.]", "scale": {"domain": [0, 4800], "nice": false},
     "axis": {"orient": "right", "values": [0,200,400,600,800,1000,1200,1400,1600,1800,2000,2200,2400,2600,2800,3000,3200,3400,3600,3800,4000,4200,4400,4600,4800], "format": "d", "labelExpr": "datum.value % 1000 === 0 && datum.value <= 4000 ? datum.label : ''", "labelAngle": -90, "labelAlign": "center", "labelBaseline": "top", "labelFont": "DejaVu Sans", "labelFontSize": 11.5, "labelFontWeight": "bold", "labelColor": "#000000", "labelPadding": 0.5, "labelFlush": false, "labelOverlap": false, "tickSize": 3, "tickColor": "#888888", "domain": false, "grid": true, "gridColor": "#555555", "gridDash": [1.5, 1.5], "gridOpacity": {"condition": {"test": "datum.value % 1000 === 0", "value": 1}, "value": 0}, "titleAngle": -90, "titleBaseline": "top", "titleFont": "Liberation Sans", "titleFontSize": 13, "titleFontWeight": "bold", "titleColor": "#000000", "titlePadding": 0}},
    "color": {"field": "m", "type": "nominal", "sort": null, "scale": {"domain": ["Feb 24","Apr 24","May 24","Sept 24","Oct 24"], "range": ["#5a5ab4","#33cc33","#7fd67f","#000000","#000000"]},
     "legend": {"title": null, "orient": "none", "legendX": 8.5, "legendY": 58, "direction": "horizontal", "padding": 0, "symbolType": "M0,-1L0,1", "symbolSize": 225, "symbolStrokeWidth": 1.5, "labelFont": "Liberation Sans", "labelFontSize": 14, "labelFontWeight": "bold", "labelLimit": 300, "columnPadding": 2.1,
      "encoding": {"labels": {"angle": {"value": -90}, "align": {"value": "left"}, "baseline": {"value": "middle"}, "x": {"value": 8.5}, "y": {"value": -8},
       "fill": {"condition": [{"test": "datum.label == 'Feb 24'", "value": "#5a5ab4"}, {"test": "datum.label == 'Mar 24' || datum.label == 'Apr 24'", "value": "#33cc33"}, {"test": "datum.label == 'May 24'", "value": "#7fd67f"}, {"test": "datum.label == 'Jun 24' || datum.label == 'Jul 24' || datum.label == 'Aug 24'", "value": "#cc1a1a"}, {"test": "datum.label == 'Dec 24' || datum.label == 'Jan 25'", "value": "#5050b4"}], "value": "#000000"}}}}},
    "strokeDash": {"field": "m", "type": "nominal", "sort": null, "scale": {"domain": ["Feb 24","Apr 24","May 24","Sept 24","Oct 24"], "range": [[1,2],[5,3],[1,2],[1,0],[3,2]]},
     "legend": {"title": null, "orient": "none", "legendX": 8.5, "legendY": 58, "direction": "horizontal", "padding": 0, "symbolType": "M0,-1L0,1", "symbolSize": 225, "symbolStrokeWidth": 1.5, "labelFont": "Liberation Sans", "labelFontSize": 14, "labelFontWeight": "bold", "labelLimit": 300, "columnPadding": 2.1,
      "encoding": {"labels": {"angle": {"value": -90}, "align": {"value": "left"}, "baseline": {"value": "middle"}, "x": {"value": 8.5}, "y": {"value": -8},
       "fill": {"condition": [{"test": "datum.label == 'Feb 24'", "value": "#5a5ab4"}, {"test": "datum.label == 'Mar 24' || datum.label == 'Apr 24'", "value": "#33cc33"}, {"test": "datum.label == 'May 24'", "value": "#7fd67f"}, {"test": "datum.label == 'Jun 24' || datum.label == 'Jul 24' || datum.label == 'Aug 24'", "value": "#cc1a1a"}, {"test": "datum.label == 'Dec 24' || datum.label == 'Jan 25'", "value": "#5050b4"}], "value": "#000000"}}}}},
    "strokeWidth": {"field": "m", "type": "nominal", "scale": {"type": "ordinal", "domain": ["Feb 24","Apr 24","May 24","Sept 24","Oct 24"], "range": [1,2.6,1,1.2,1]}, "legend": null},
    "order": {"field": "a", "type": "quantitative"}
   }
  }
  ]
 },
 {"spacing": 28,
  "resolve": {"scale": {"color": "independent", "strokeDash": "independent", "strokeWidth": "independent", "x": "independent", "y": "independent"}, "legend": {"color": "independent", "strokeDash": "independent"}},
  "vconcat": [
  {"width": 231, "height": 560,
   "title": {"text": "Hygroscopic", "orient": "left", "anchor": "middle", "offset": -3, "font": "Liberation Sans", "fontSize": 14, "fontWeight": "bold", "color": "#000000"},
   "data": {"name": "hyg"},
   "mark": {"type": "line", "clip": true},
   "encoding": {
    "x": {"field": "o", "type": "quantitative", "title": ["Normalized cummulative", "occurrence"], "scale": {"domain": [0, 1], "reverse": true, "nice": false, "zero": false},
     "axis": {"orient": "bottom", "values": [0, 0.2, 0.4, 0.6, 0.8, 1], "format": "~g", "labelAngle": -90, "labelAlign": "right", "labelBaseline": "middle", "labelFont": "DejaVu Sans", "labelFontSize": 13, "labelFontWeight": "bold", "labelColor": "#000000", "labelPadding": 3, "labelFlush": false, "labelOverlap": false, "tickSize": 4, "tickColor": "#888888", "domain": false, "grid": false, "titleAngle": 180, "titleBaseline": "bottom", "titleFont": "DejaVu Sans", "titleFontSize": 11, "titleFontWeight": "bold", "titleColor": "#000000", "titlePadding": 15, "titleLineHeight": 18}},
    "y": {"field": "a", "type": "quantitative", "title": "altitude [m a.g.l.]", "scale": {"domain": [0, 4800], "nice": false},
     "axis": {"orient": "right", "values": [0,200,400,600,800,1000,1200,1400,1600,1800,2000,2200,2400,2600,2800,3000,3200,3400,3600,3800,4000,4200,4400,4600,4800], "format": "d", "labelExpr": "datum.value % 1000 === 0 && datum.value <= 4000 ? datum.label : ''", "labelAngle": -90, "labelAlign": "center", "labelBaseline": "top", "labelFont": "DejaVu Sans", "labelFontSize": 11.5, "labelFontWeight": "bold", "labelColor": "#000000", "labelPadding": 0.5, "labelFlush": false, "labelOverlap": false, "tickSize": 3, "tickColor": "#888888", "domain": false, "grid": true, "gridColor": "#555555", "gridDash": [1.5, 1.5], "gridOpacity": {"condition": {"test": "datum.value % 1000 === 0", "value": 1}, "value": 0}, "titleAngle": -90, "titleBaseline": "top", "titleFont": "Liberation Sans", "titleFontSize": 13, "titleFontWeight": "bold", "titleColor": "#000000", "titlePadding": 0}},
    "color": {"field": "m", "type": "nominal", "sort": null, "scale": {"domain": ["Feb 24","Mar 24","Apr 24","May 24","Jun 24","Jul 24","Aug 24","Sep 24","Oct 24","Nov 24","Dec 24","Jan 25"], "range": ["#5a5ab4","#44cc44","#44cc44","#7fd67f","#cc1a1a","#cc1a1a","#cc1a1a","#000000","#000000","#000000","#3c3cb4","#5050b4"]},
     "legend": {"title": null, "orient": "none", "legendX": 3, "legendY": 53, "direction": "horizontal", "padding": 0, "symbolType": "M0,-1L0,1", "symbolSize": 225, "symbolStrokeWidth": 1.5, "labelFont": "Liberation Sans", "labelFontSize": 12, "labelFontWeight": "bold", "labelLimit": 300, "columnPadding": 1.6,
      "encoding": {"labels": {"angle": {"value": -90}, "align": {"value": "left"}, "baseline": {"value": "middle"}, "x": {"value": 8.5}, "y": {"value": -8},
       "fill": {"condition": [{"test": "datum.label == 'Feb 24'", "value": "#5a5ab4"}, {"test": "datum.label == 'Mar 24' || datum.label == 'Apr 24'", "value": "#44cc44"}, {"test": "datum.label == 'May 24'", "value": "#7fd67f"}, {"test": "datum.label == 'Jun 24' || datum.label == 'Jul 24' || datum.label == 'Aug 24'", "value": "#cc1a1a"}, {"test": "datum.label == 'Dec 24' || datum.label == 'Jan 25'", "value": "#5050b4"}], "value": "#000000"}}}}},
    "strokeDash": {"field": "m", "type": "nominal", "sort": null, "scale": {"domain": ["Feb 24","Mar 24","Apr 24","May 24","Jun 24","Jul 24","Aug 24","Sep 24","Oct 24","Nov 24","Dec 24","Jan 25"], "range": [[1,2],[1,0],[4,2],[1,2],[1,0],[4,2],[1.5,2],[1,0],[4,2],[1,2],[1,0],[3,2]]},
     "legend": {"title": null, "orient": "none", "legendX": 3, "legendY": 53, "direction": "horizontal", "padding": 0, "symbolType": "M0,-1L0,1", "symbolSize": 225, "symbolStrokeWidth": 1.5, "labelFont": "Liberation Sans", "labelFontSize": 12, "labelFontWeight": "bold", "labelLimit": 300, "columnPadding": 1.6,
      "encoding": {"labels": {"angle": {"value": -90}, "align": {"value": "left"}, "baseline": {"value": "middle"}, "x": {"value": 8.5}, "y": {"value": -8},
       "fill": {"condition": [{"test": "datum.label == 'Feb 24'", "value": "#5a5ab4"}, {"test": "datum.label == 'Mar 24' || datum.label == 'Apr 24'", "value": "#44cc44"}, {"test": "datum.label == 'May 24'", "value": "#7fd67f"}, {"test": "datum.label == 'Jun 24' || datum.label == 'Jul 24' || datum.label == 'Aug 24'", "value": "#cc1a1a"}, {"test": "datum.label == 'Dec 24' || datum.label == 'Jan 25'", "value": "#5050b4"}], "value": "#000000"}}}}},
    "strokeWidth": {"field": "m", "type": "nominal", "scale": {"type": "ordinal", "domain": ["Feb 24","Mar 24","Apr 24","May 24","Jun 24","Jul 24","Aug 24","Sep 24","Oct 24","Nov 24","Dec 24","Jan 25"], "range": [1,1,1,1,1,1,1,1,1,1,1,1]}, "legend": null},
    "order": {"field": "a", "type": "quantitative"}
   }
  },
  {"width": 232, "height": 560,
   "title": {"text": "Aerosol mixing", "orient": "left", "anchor": "middle", "offset": -3, "font": "Liberation Sans", "fontSize": 14, "fontWeight": "bold", "color": "#000000"},
   "data": {"name": "aer"},
   "mark": {"type": "line", "clip": true},
   "encoding": {
    "x": {"field": "o", "type": "quantitative", "title": ["Normalized cummulative", "occurrence"], "scale": {"domain": [0, 1], "reverse": true, "nice": false, "zero": false},
     "axis": {"orient": "bottom", "values": [0, 0.2, 0.4, 0.6, 0.8, 1], "format": "~g", "labelAngle": -90, "labelAlign": "right", "labelBaseline": "middle", "labelFont": "DejaVu Sans", "labelFontSize": 13, "labelFontWeight": "bold", "labelColor": "#000000", "labelPadding": 3, "labelFlush": false, "labelOverlap": false, "tickSize": 4, "tickColor": "#888888", "domain": false, "grid": false, "titleAngle": 180, "titleBaseline": "bottom", "titleFont": "DejaVu Sans", "titleFontSize": 11, "titleFontWeight": "bold", "titleColor": "#000000", "titlePadding": 15, "titleLineHeight": 18}},
    "y": {"field": "a", "type": "quantitative", "title": "altitude [m a.g.l.]", "scale": {"domain": [0, 4800], "nice": false},
     "axis": {"orient": "right", "values": [0,200,400,600,800,1000,1200,1400,1600,1800,2000,2200,2400,2600,2800,3000,3200,3400,3600,3800,4000,4200,4400,4600,4800], "format": "d", "labelExpr": "datum.value % 1000 === 0 && datum.value <= 4000 ? datum.label : ''", "labelAngle": -90, "labelAlign": "center", "labelBaseline": "top", "labelFont": "DejaVu Sans", "labelFontSize": 11.5, "labelFontWeight": "bold", "labelColor": "#000000", "labelPadding": 0.5, "labelFlush": false, "labelOverlap": false, "tickSize": 3, "tickColor": "#888888", "domain": false, "grid": true, "gridColor": "#555555", "gridDash": [1.5, 1.5], "gridOpacity": {"condition": {"test": "datum.value % 1000 === 0", "value": 1}, "value": 0}, "titleAngle": -90, "titleBaseline": "top", "titleFont": "Liberation Sans", "titleFontSize": 13, "titleFontWeight": "bold", "titleColor": "#000000", "titlePadding": 0}},
    "color": {"field": "m", "type": "nominal", "sort": null, "scale": {"domain": ["Feb 24","Mar 24","Apr 24","May 24","Jun 24","Jul 24","Aug 24","Sep 24","Oct 24","Nov 24","Dec 24"], "range": ["#5a5ab4","#33cc33","#44cc44","#7fd67f","#cc1a1a","#cc1a1a","#cc1a1a","#000000","#000000","#000000","#3c3cb4"]},
     "legend": {"title": null, "orient": "none", "legendX": 9.5, "legendY": 58, "direction": "horizontal", "padding": 0, "symbolType": "M0,-1L0,1", "symbolSize": 225, "symbolStrokeWidth": 1.5, "labelFont": "Liberation Sans", "labelFontSize": 13, "labelFontWeight": "bold", "labelLimit": 300, "columnPadding": 2.1,
      "encoding": {"labels": {"angle": {"value": -90}, "align": {"value": "left"}, "baseline": {"value": "middle"}, "x": {"value": 8.5}, "y": {"value": -8},
       "fill": {"condition": [{"test": "datum.label == 'Feb 24'", "value": "#5a5ab4"}, {"test": "datum.label == 'Mar 24' || datum.label == 'Apr 24'", "value": "#44cc44"}, {"test": "datum.label == 'May 24'", "value": "#7fd67f"}, {"test": "datum.label == 'Jun 24' || datum.label == 'Jul 24' || datum.label == 'Aug 24'", "value": "#cc1a1a"}, {"test": "datum.label == 'Dec 24' || datum.label == 'Jan 25'", "value": "#5050b4"}], "value": "#000000"}}}}},
    "strokeDash": {"field": "m", "type": "nominal", "sort": null, "scale": {"domain": ["Feb 24","Mar 24","Apr 24","May 24","Jun 24","Jul 24","Aug 24","Sep 24","Oct 24","Nov 24","Dec 24"], "range": [[1,2],[1,0],[4,2],[1,2],[1,0],[4,2],[1.5,2],[1,0],[4,2],[1,2],[1,0]]},
     "legend": {"title": null, "orient": "none", "legendX": 9.5, "legendY": 58, "direction": "horizontal", "padding": 0, "symbolType": "M0,-1L0,1", "symbolSize": 225, "symbolStrokeWidth": 1.5, "labelFont": "Liberation Sans", "labelFontSize": 13, "labelFontWeight": "bold", "labelLimit": 300, "columnPadding": 2.1,
      "encoding": {"labels": {"angle": {"value": -90}, "align": {"value": "left"}, "baseline": {"value": "middle"}, "x": {"value": 8.5}, "y": {"value": -8},
       "fill": {"condition": [{"test": "datum.label == 'Feb 24'", "value": "#5a5ab4"}, {"test": "datum.label == 'Mar 24' || datum.label == 'Apr 24'", "value": "#44cc44"}, {"test": "datum.label == 'May 24'", "value": "#7fd67f"}, {"test": "datum.label == 'Jun 24' || datum.label == 'Jul 24' || datum.label == 'Aug 24'", "value": "#cc1a1a"}, {"test": "datum.label == 'Dec 24' || datum.label == 'Jan 25'", "value": "#5050b4"}], "value": "#000000"}}}}},
    "strokeWidth": {"field": "m", "type": "nominal", "scale": {"type": "ordinal", "domain": ["Feb 24","Mar 24","Apr 24","May 24","Jun 24","Jul 24","Aug 24","Sep 24","Oct 24","Nov 24","Dec 24"], "range": [1,2.6,1,1,1.2,1.2,2.2,1,1,1,1.2]}, "legend": null},
    "order": {"field": "a", "type": "quantitative"}
   }
  }
  ]
 }
 ]
},
{"spacing": 0,
 "resolve": {"scale": {"color": "independent", "strokeDash": "independent", "strokeWidth": "independent", "x": "independent", "y": "independent"}, "legend": {"color": "independent", "strokeDash": "independent"}},
 "vconcat": [
 {"width": 10, "height": 268, "data": {"values": []}, "mark": {"type": "point", "opacity": 0}, "view": {"stroke": null}},
 {"width": 224, "height": 560,
   "title": {"text": "Smoke/Marine", "orient": "left", "anchor": "middle", "offset": -3, "font": "Liberation Sans", "fontSize": 14, "fontWeight": "bold", "color": "#000000"},
   "data": {"name": "smk"},
   "mark": {"type": "line", "clip": true},
   "encoding": {
    "x": {"field": "o", "type": "quantitative", "title": ["Normalized cummulative", "occurrence"], "scale": {"domain": [0, 1], "reverse": true, "nice": false, "zero": false},
     "axis": {"orient": "bottom", "values": [0, 0.2, 0.4, 0.6, 0.8, 1], "format": "~g", "labelAngle": -90, "labelAlign": "right", "labelBaseline": "middle", "labelFont": "DejaVu Sans", "labelFontSize": 13, "labelFontWeight": "bold", "labelColor": "#000000", "labelPadding": 3, "labelFlush": false, "labelOverlap": false, "tickSize": 4, "tickColor": "#888888", "domain": false, "grid": false, "titleAngle": 180, "titleBaseline": "bottom", "titleFont": "DejaVu Sans", "titleFontSize": 11, "titleFontWeight": "bold", "titleColor": "#000000", "titlePadding": 15, "titleLineHeight": 18}},
    "y": {"field": "a", "type": "quantitative", "title": "altitude [m a.g.l.]", "scale": {"domain": [0, 4800], "nice": false},
     "axis": {"orient": "right", "values": [0,200,400,600,800,1000,1200,1400,1600,1800,2000,2200,2400,2600,2800,3000,3200,3400,3600,3800,4000,4200,4400,4600,4800], "format": "d", "labelExpr": "datum.value % 1000 === 0 && datum.value <= 4000 ? datum.label : ''", "labelAngle": -90, "labelAlign": "center", "labelBaseline": "top", "labelFont": "DejaVu Sans", "labelFontSize": 11.5, "labelFontWeight": "bold", "labelColor": "#000000", "labelPadding": 0.5, "labelFlush": false, "labelOverlap": false, "tickSize": 3, "tickColor": "#888888", "domain": false, "grid": true, "gridColor": "#555555", "gridDash": [1.5, 1.5], "gridOpacity": {"condition": {"test": "datum.value % 1000 === 0", "value": 1}, "value": 0}, "titleAngle": -90, "titleBaseline": "top", "titleFont": "Liberation Sans", "titleFontSize": 13, "titleFontWeight": "bold", "titleColor": "#000000", "titlePadding": 0}},
    "color": {"field": "m", "type": "nominal", "sort": null, "scale": {"domain": ["Feb 24","Mar 24","Apr 24","May 24","Jun 24","Jul 24","Aug 24","Sep 24","Oct 24","Nov 24","Dec 24","Jan 25"], "range": ["#5a5ab4","#44cc44","#44cc44","#7fd67f","#cc1a1a","#cc1a1a","#cc1a1a","#000000","#000000","#000000","#3c3cb4","#5050b4"]},
     "legend": {"title": null, "orient": "none", "legendX": 2, "legendY": 64, "direction": "horizontal", "padding": 0, "symbolType": "M0,-1L0,1", "symbolSize": 225, "symbolStrokeWidth": 1.5, "labelFont": "Liberation Sans", "labelFontSize": 14, "labelFontWeight": "bold", "labelLimit": 300, "columnPadding": 1.4,
      "encoding": {"labels": {"angle": {"value": -90}, "align": {"value": "left"}, "baseline": {"value": "middle"}, "x": {"value": 8.5}, "y": {"value": -8},
       "fill": {"condition": [{"test": "datum.label == 'Feb 24'", "value": "#5a5ab4"}, {"test": "datum.label == 'Mar 24' || datum.label == 'Apr 24'", "value": "#44cc44"}, {"test": "datum.label == 'May 24'", "value": "#7fd67f"}, {"test": "datum.label == 'Jun 24' || datum.label == 'Jul 24' || datum.label == 'Aug 24'", "value": "#cc1a1a"}, {"test": "datum.label == 'Dec 24' || datum.label == 'Jan 25'", "value": "#5050b4"}], "value": "#000000"}}}}},
    "strokeDash": {"field": "m", "type": "nominal", "sort": null, "scale": {"domain": ["Feb 24","Mar 24","Apr 24","May 24","Jun 24","Jul 24","Aug 24","Sep 24","Oct 24","Nov 24","Dec 24","Jan 25"], "range": [[1,2],[1,0],[4,2],[1,2],[1,0],[4,2],[1.5,2],[1,0],[4,2],[1,2],[1,0],[3,2]]},
     "legend": {"title": null, "orient": "none", "legendX": 2, "legendY": 64, "direction": "horizontal", "padding": 0, "symbolType": "M0,-1L0,1", "symbolSize": 225, "symbolStrokeWidth": 1.5, "labelFont": "Liberation Sans", "labelFontSize": 14, "labelFontWeight": "bold", "labelLimit": 300, "columnPadding": 1.4,
      "encoding": {"labels": {"angle": {"value": -90}, "align": {"value": "left"}, "baseline": {"value": "middle"}, "x": {"value": 8.5}, "y": {"value": -8},
       "fill": {"condition": [{"test": "datum.label == 'Feb 24'", "value": "#5a5ab4"}, {"test": "datum.label == 'Mar 24' || datum.label == 'Apr 24'", "value": "#44cc44"}, {"test": "datum.label == 'May 24'", "value": "#7fd67f"}, {"test": "datum.label == 'Jun 24' || datum.label == 'Jul 24' || datum.label == 'Aug 24'", "value": "#cc1a1a"}, {"test": "datum.label == 'Dec 24' || datum.label == 'Jan 25'", "value": "#5050b4"}], "value": "#000000"}}}}},
    "strokeWidth": {"field": "m", "type": "nominal", "scale": {"type": "ordinal", "domain": ["Feb 24","Mar 24","Apr 24","May 24","Jun 24","Jul 24","Aug 24","Sep 24","Oct 24","Nov 24","Dec 24","Jan 25"], "range": [1,1,1,1,2.2,1,2,1,1,1,1,1]}, "legend": null},
    "order": {"field": "a", "type": "quantitative"}
   }
 }
 ]
}
]
}
